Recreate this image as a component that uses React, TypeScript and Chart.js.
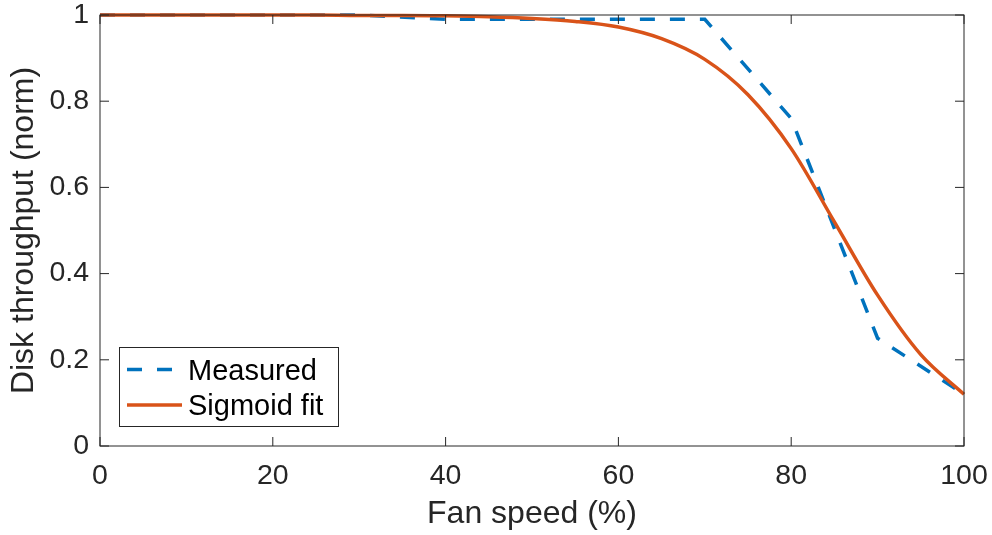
import React, { useEffect, useRef } from "react";
import { Chart, registerables } from "chart.js";

Chart.register(...registerables);

const fanSpeed = [0, 10, 20, 30, 40, 50, 60, 70, 80, 90, 100];
const measured = [1, 1, 1, 1, 0.99, 0.99, 0.99, 0.99, 0.76, 0.25, 0.12];

// Sigmoid fit curve
const fitSpeed = [0, 5, 10, 15, 20, 25, 30, 35, 40, 45, 50, 55, 60, 65, 70, 75, 80, 85, 90, 95, 100];
const sigmoidFit = [1.0, 1.0, 1.0, 1.0, 1.0, 1.0, 0.999, 0.999, 0.998, 0.996, 0.992, 0.985, 0.972, 0.945, 0.897, 0.815, 0.69, 0.52, 0.35, 0.212, 0.12];

const xTicks = [0, 20, 40, 60, 80, 100];
const yTicks = [0, 0.2, 0.4, 0.6, 0.8, 1];

const seriesNames = ["Measured", "Sigmoid fit"];
const xTitle = "Fan speed (%)";
const yTitle = "Disk throughput (norm)";

const FONT = '"Liberation Sans", Arial, Helvetica, sans-serif';
const BLUE = "#0072BD";
const ORANGE = "#D95319";
const AXIS = "#262626";

const frameAndLegend = {
  id: "frameAndLegend",
  afterDraw(chart: any) {
    const { ctx, chartArea, scales } = chart;
    const { left, right, top, bottom } = chartArea;
    const xs = scales.x;
    const ys = scales.y;
    ctx.save();
    ctx.strokeStyle = AXIS;
    ctx.lineWidth = 1;
    ctx.setLineDash([]);
    ctx.strokeRect(left, top, right - left, bottom - top);
    const tl = 9;
    ctx.beginPath();
    for (const v of xTicks) {
      const px = xs.getPixelForValue(v);
      ctx.moveTo(px, bottom);
      ctx.lineTo(px, bottom - tl);
      ctx.moveTo(px, top);
      ctx.lineTo(px, top + tl);
    }
    for (const v of yTicks) {
      const py = ys.getPixelForValue(v);
      ctx.moveTo(left, py);
      ctx.lineTo(left + tl, py);
      ctx.moveTo(right, py);
      ctx.lineTo(right - tl, py);
    }
    ctx.stroke();

    // Legend box
    const lx = 119, ly = 347, lw = 219, lh = 79;
    ctx.fillStyle = "#ffffff";
    ctx.fillRect(lx, ly, lw, lh);
    ctx.strokeStyle = "#262626";
    ctx.lineWidth = 1;
    ctx.strokeRect(lx + 0.5, ly + 0.5, lw, lh);

    ctx.lineWidth = 3.5;
    ctx.strokeStyle = BLUE;
    ctx.setLineDash([15, 15]);
    ctx.beginPath();
    ctx.moveTo(127, 369.5);
    ctx.lineTo(182, 369.5);
    ctx.stroke();
    ctx.setLineDash([]);
    ctx.strokeStyle = ORANGE;
    ctx.beginPath();
    ctx.moveTo(127, 405);
    ctx.lineTo(182, 405);
    ctx.stroke();

    ctx.fillStyle = "#000000";
    ctx.font = `29px ${FONT}`;
    ctx.textAlign = "left";
    ctx.textBaseline = "alphabetic";
    ctx.fillText(seriesNames[0], 188, 380);
    ctx.fillText(seriesNames[1], 188, 415);
    ctx.restore();
  },
};

export default function App() {
  const ref = useRef<HTMLCanvasElement>(null);
  useEffect(() => {
    document.body.style.margin = "0";
    const canvas = ref.current;
    if (!canvas) return;
    const chart = new Chart(canvas, {
      type: "line",
      data: {
        datasets: [
          {
            label: seriesNames[0],
            data: fanSpeed.map((x, i) => ({ x, y: measured[i] })),
            borderColor: BLUE,
            backgroundColor: BLUE,
            borderWidth: 3.5,
            borderDash: [15, 15],
            pointRadius: 0,
            tension: 0,
            fill: false,
            clip: 5,
            order: 1,
          },
          {
            label: seriesNames[1],
            data: fitSpeed.map((x, i) => ({ x, y: sigmoidFit[i] })),
            borderColor: ORANGE,
            backgroundColor: ORANGE,
            borderWidth: 3.5,
            pointRadius: 0,
            cubicInterpolationMode: "monotone",
            fill: false,
            clip: 5,
            order: 0,
          },
        ],
      },
      options: {
        responsive: false,
        animation: false,
        layout: { padding: { top: 15, right: 28, left: 0, bottom: 0 } },
        plugins: { legend: { display: false }, tooltip: { enabled: false } },
        scales: {
          x: {
            type: "linear",
            min: 0,
            max: 100,
            afterFit: (s: any) => {
              s.height = 89;
              s.paddingLeft = 0;
              s.paddingRight = 0;
              s.paddingTop = 0;
              s.paddingBottom = 0;
            },
            afterBuildTicks: (s: any) => { s.ticks = xTicks.map((v) => ({ value: v })); },
            grid: { display: false, drawTicks: false },
            border: { display: false },
            ticks: {
              color: AXIS,
              padding: 13,
              maxRotation: 0,
              font: { family: FONT, size: 28.5 },
              callback: (v: any) => String(v),
            },
            title: {
              display: true,
              text: xTitle,
              color: AXIS,
              font: { family: FONT, size: 32, lineHeight: 1 },
              padding: { top: 0, bottom: 5 },
            },
          },
          y: {
            type: "linear",
            min: 0,
            max: 1,
            afterFit: (s: any) => {
              s.width = 100;
              s.paddingLeft = 0;
              s.paddingRight = 0;
              s.paddingTop = 0;
              s.paddingBottom = 0;
            },
            afterBuildTicks: (s: any) => { s.ticks = yTicks.map((v) => ({ value: v })); },
            grid: { display: false, drawTicks: false },
            border: { display: false },
            ticks: {
              color: AXIS,
              padding: 11,
              font: { family: FONT, size: 28.5 },
              callback: (v: any) => String(Number(Number(v).toFixed(1))),
            },
            title: {
              display: true,
              text: yTitle,
              color: AXIS,
              font: { family: FONT, size: 32, lineHeight: 1 },
              padding: { top: 8, bottom: 0 },
            },
          },
        },
      },
      plugins: [frameAndLegend],
    });
    return () => chart.destroy();
  }, []);
  return (
    <div style={{ position: "absolute", left: 0, top: 0, width: 992, height: 535, background: "#fff" }}>
      <canvas ref={ref} width={992} height={535} style={{ width: 992, height: 535, display: "block" }} />
    </div>
  );
}
